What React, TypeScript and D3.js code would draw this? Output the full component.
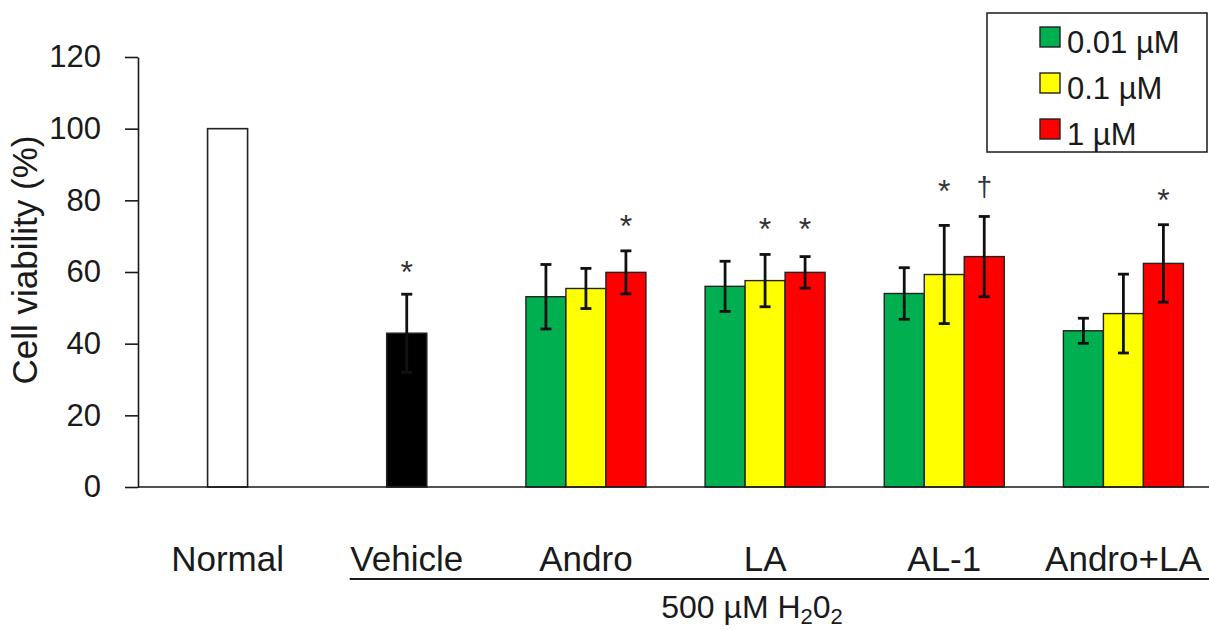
import React, { useRef, useEffect } from 'react';
import { select, scaleBand, scaleLinear, axisLeft, max } from 'd3';

// categories along the x axis
const categories = ['Normal', 'Vehicle', 'Andro', 'LA', 'AL-1', 'Andro+LA'];
const treated = ['Andro', 'LA', 'AL-1', 'Andro+LA'];
const seriesNames = ['0.01 \u00b5M', '0.1 \u00b5M', '1 \u00b5M'];
const seriesColors = ['#00b050', '#ffff00', '#ff0000'];

// single bars (Normal, Vehicle)
const controlValues = [100, 42.9];
const controlErrors = [0, 10.9];
const controlMarks = ['', '*'];

// grouped bars, one array per concentration, in treated order
const low = [53.1, 56, 54, 43.6];
const lowErr = [9, 7, 7.2, 3.5];
const mid = [55.4, 57.6, 59.3, 48.4];
const midErr = [5.6, 7.3, 13.7, 11];
const high = [59.9, 59.9, 64.3, 62.4];
const highErr = [6, 4.4, 11.2, 10.8];
const seriesValues = [low, mid, high];
const seriesErrors = [lowErr, midErr, highErr];

// significance marks per treated group (low, mid, high)
const marks = [
  ['', '', '*'],
  ['', '*', '*'],
  ['', '*', '\u2020'],
  ['', '', '*'],
];

const yTicks = [0, 20, 40, 60, 80, 100, 120];

const W = 1209;
const H = 630;
const FONT = "'Liberation Sans', Arial, sans-serif";
const INK = '#1a1a1a';

export default function App() {
  const axisRef = useRef<SVGGElement>(null);

  const x = scaleBand<string>().domain(categories).range([138, 1213]).padding(0);
  const y = scaleLinear().domain([0, 120]).range([487, 57]);
  const barW = 40;
  const cx = (c: string) => (x(c) as number) + x.bandwidth() / 2;

  useEffect(() => {
    const g = select(axisRef.current);
    g.call(
      axisLeft(y).tickValues(yTicks).tickSize(13).tickSizeOuter(0).tickPadding(24) as any
    );
    g.select('.domain').attr('stroke', INK).attr('stroke-width', 1.6);
    g.selectAll('.tick line').attr('stroke', INK).attr('stroke-width', 1.6);
    g.selectAll('.tick text')
      .attr('font-size', 31)
      .attr('font-family', FONT)
      .attr('fill', INK);
  }, []);

  const errorBar = (xc: number, v: number, e: number, key: string) => {
    if (!e) return null;
    const top = y(v + e);
    const bot = y(v - e);
    return (
      <g key={key} stroke="#111" strokeWidth={2.8}>
        <line x1={xc} x2={xc} y1={top} y2={bot} />
        <line x1={xc - 5.5} x2={xc + 5.5} y1={top} y2={top} />
        <line x1={xc - 5.5} x2={xc + 5.5} y1={bot} y2={bot} />
      </g>
    );
  };

  const markText = (xc: number, yc: number, m: string, key: string) =>
    m ? (
      <text
        key={key}
        x={xc}
        y={m === '*' ? yc + 18 : yc + 12}
        textAnchor="middle"
        fontSize={m === '*' ? 32 : 28}
        fontFamily={FONT}
        fill="#333"
      >
        {m}
      </text>
    ) : null;

  return (
    <div style={{ position: 'fixed', left: 0, top: 0 }}>
      <svg width={W} height={H} style={{ display: 'block', background: '#fff' }}>
        {/* control bars */}
        {controlValues.map((v, i) => {
          const c = categories[i];
          const xc = cx(c);
          const groupTop = y(v + controlErrors[i]);
          return (
            <g key={c}>
              <rect
                x={xc - barW / 2}
                y={y(v)}
                width={barW}
                height={y(0) - y(v)}
                fill={i === 0 ? '#fff' : '#000'}
                stroke="#222"
                strokeWidth={1.6}
              />
              {errorBar(xc, v, controlErrors[i], 'e' + c)}
              {markText(xc, groupTop - 29, controlMarks[i], 'm' + c)}
            </g>
          );
        })}

        {/* grouped bars */}
        {treated.map((c, gi) => {
          const xc = cx(c);
          const groupTop = y(
            max(seriesValues.map((s, si) => s[gi] + seriesErrors[si][gi])) as number
          );
          return (
            <g key={c}>
              {seriesValues.map((s, si) => {
                const bx = xc - (barW * 3) / 2 + si * barW;
                return (
                  <rect
                    key={si}
                    x={bx}
                    y={y(s[gi])}
                    width={barW}
                    height={y(0) - y(s[gi])}
                    fill={seriesColors[si]}
                    stroke="#222"
                    strokeWidth={1.4}
                  />
                );
              })}
              {seriesValues.map((s, si) =>
                errorBar(xc - barW + si * barW, s[gi], seriesErrors[si][gi], 'e' + si)
              )}
              {marks[gi].map((m, si) =>
                markText(xc - barW + si * barW, groupTop - 32, m, 'm' + si)
              )}
            </g>
          );
        })}

        {/* y axis */}
        <g ref={axisRef} transform="translate(138,0)" />
        <text
          transform={`translate(37,260) rotate(-90)`}
          textAnchor="middle"
          fontSize={35}
          fontFamily={FONT}
          fill={INK}
        >
          Cell viability (%)
        </text>

        {/* x axis baseline */}
        <line x1={138} x2={W} y1={y(0)} y2={y(0)} stroke={INK} strokeWidth={1.6} />

        {/* category labels */}
        {categories.map((c) => (
          <text
            key={c}
            x={cx(c)}
            y={571}
            textAnchor="middle"
            fontSize={35}
            fontFamily={FONT}
            fill={INK}
          >
            {c}
          </text>
        ))}

        {/* H2O2 bracket */}
        <line x1={cx('Vehicle') - 57} x2={W} y1={579} y2={579} stroke={INK} strokeWidth={1.8} />
        <text x={752} y={618} textAnchor="middle" fontSize={32} fontFamily={FONT} fill={INK}>
          500 {'\u00b5'}M H
          <tspan fontSize={22} dy={6}>2</tspan>
          <tspan dy={-6}>0</tspan>
          <tspan fontSize={22} dy={6}>2</tspan>
        </text>

        {/* legend */}
        <rect x={987} y={13} width={220} height={139} fill="#fff" stroke={INK} strokeWidth={1.5} />
        {seriesNames.map((n, i) => (
          <g key={n}>
            <rect
              x={1040}
              y={27 + i * 46}
              width={20}
              height={20}
              fill={seriesColors[i]}
              stroke="#222"
              strokeWidth={1.4}
            />
            <text x={1067} y={53 + i * 46} fontSize={31} fontFamily={FONT} fill={INK}>
              {n}
            </text>
          </g>
        ))}
      </svg>
    </div>
  );
}
